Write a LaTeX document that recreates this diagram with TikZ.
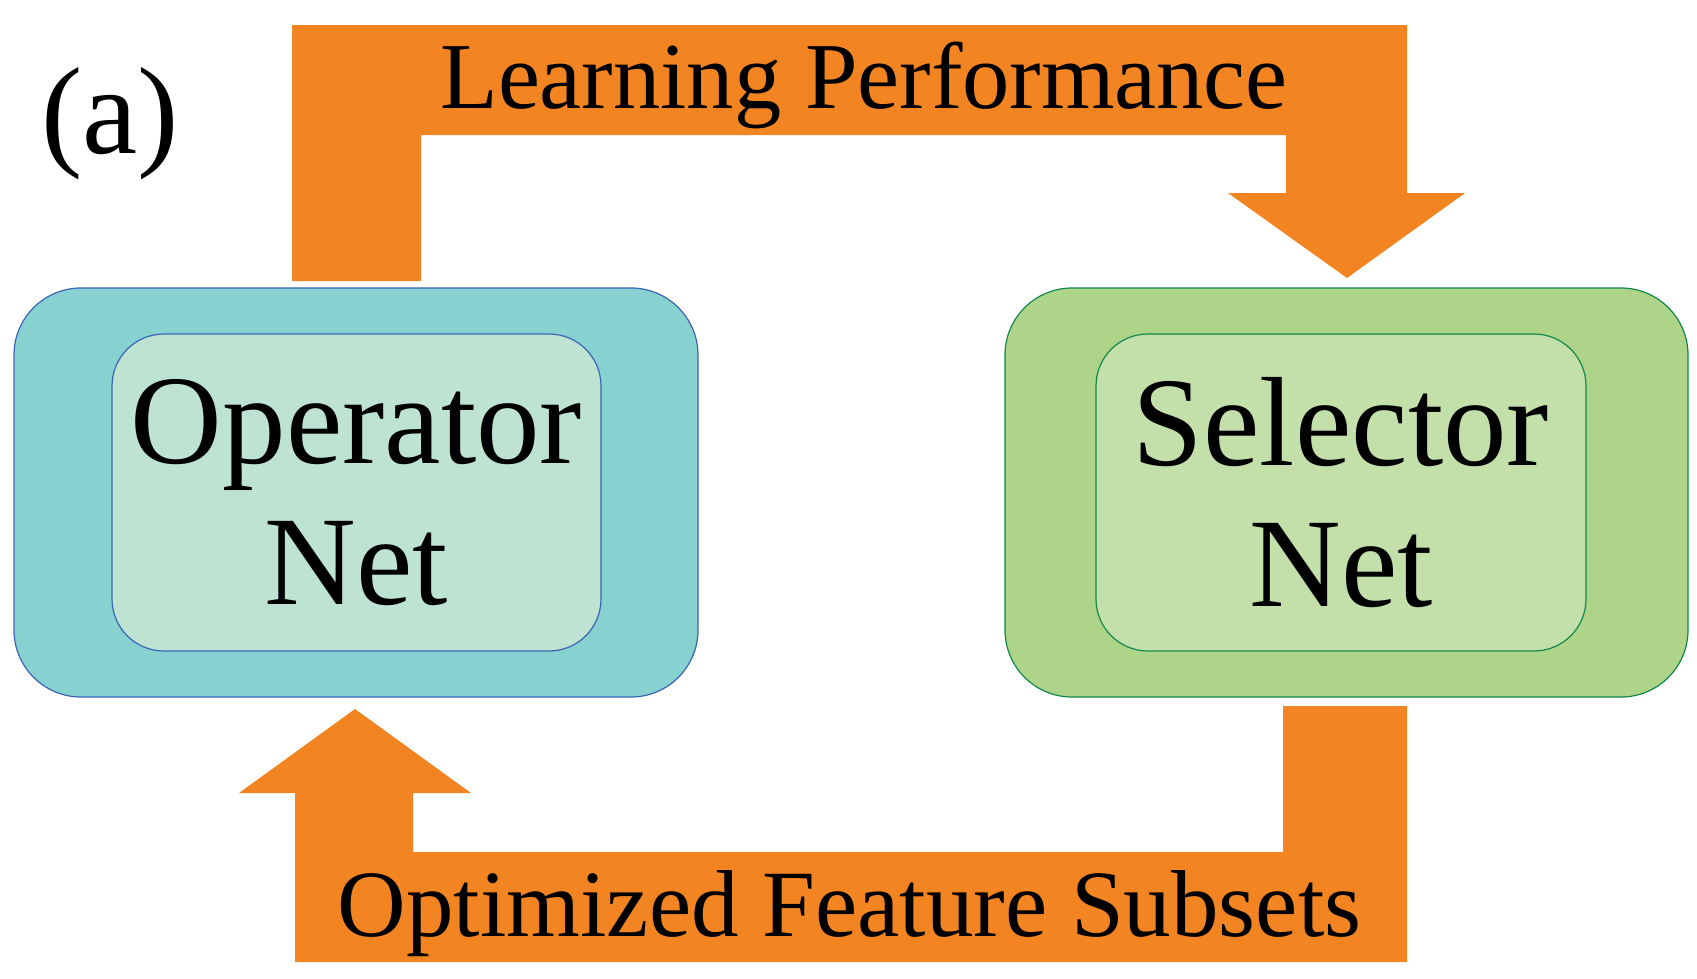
\documentclass[tikz,border=0pt]{standalone}
\usepackage{fontspec}
\setmainfont{Liberation Serif}
\definecolor{arroworange}{RGB}{243,132,34}
\definecolor{tealouter}{RGB}{136,209,209}
\definecolor{tealinner}{RGB}{190,227,211}
\definecolor{tealline}{RGB}{59,100,180}
\definecolor{greenouter}{RGB}{174,212,138}
\definecolor{greeninner}{RGB}{195,224,171}
\definecolor{greenline}{RGB}{20,135,75}
\tikzset{
  outerbox/.style={rectangle, rounded corners=67pt, line width=1.2pt, inner sep=0pt},
  innerbox/.style={rectangle, rounded corners=52pt, line width=1.2pt, inner sep=0pt, align=center,
     font=\fontsize{127}{141}\selectfont},
  blockarrow/.style={fill=arroworange, draw=none},
  arrowlabel/.style={anchor=base, inner sep=0pt, font=\fontsize{95}{100}\selectfont},
}
\begin{document}
\begin{tikzpicture}[x=1pt,y=-1pt]
\useasboundingbox (0,0) rectangle (1697,978);
% boxes
\node[outerbox, fill=tealouter, draw=tealline, minimum width=684pt, minimum height=409pt] (opout) at (356,492.5) {};
\node[innerbox, fill=tealinner, draw=tealline, minimum width=489pt, minimum height=317pt] (opin) at (356.5,492.5) {Operator\\Net};
\node[outerbox, fill=greenouter, draw=greenline, minimum width=683pt, minimum height=409pt] (selout) at (1346.5,492.5) {};
\node[innerbox, fill=greeninner, draw=greenline, minimum width=490pt, minimum height=317pt] (selin) at (1341,492.5) {Selector\\Net};
% top block arrow
\fill[blockarrow] (292,281) -- (292,25) -- (1407,25) -- (1407,193) -- (1465,193) -- (1347,278)
  -- (1228,193) -- (1286,193) -- (1286,135) -- (421,135) -- (421,281) -- cycle;
% bottom block arrow
\fill[blockarrow] (1283,706) -- (1407,706) -- (1407,962) -- (295,962) -- (295,793) -- (239,793)
  -- (355,709) -- (471,793) -- (413,793) -- (413,852) -- (1283,852) -- cycle;
% labels
\node[arrowlabel, font=\fontsize{94.5}{100}\selectfont] (lp) at (864,108) {Learning Performance};
\node[arrowlabel] (ofs) at (849.5,936) {Optimized Feature Subsets};
\node[anchor=base, inner sep=0pt, font=\fontsize{124}{130}\selectfont] (tag) at (110,153) {(a)};
\end{tikzpicture}
\end{document}
